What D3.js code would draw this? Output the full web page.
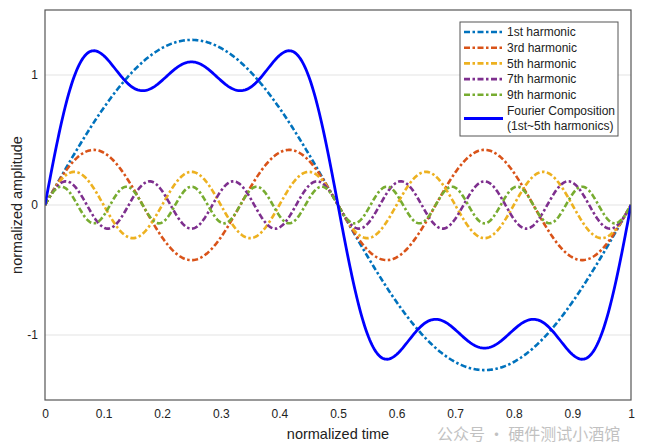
<!DOCTYPE html>
<meta charset="utf-8">
<script src="https://d3js.org/d3.v7.min.js"></script>
<html>
  <head>
    <style>
    body { margin: 0; background-color: white; }
    text { font-family: "Liberation Sans", Arial, sans-serif; }
    </style>
  </head>
  <body>
    <div id="my_dataviz"></div>
  </body>
</html>

<script>

// harmonic orders, names and amplitudes
var orders = [1, 3, 5, 7, 9];
var names = ["1st harmonic", "3rd harmonic", "5th harmonic", "7th harmonic", "9th harmonic"];
var amplitudes = [1.27, 0.424, 0.255, 0.182, 0.141];
var colors = ["#0072BD", "#D95319", "#EDB120", "#7E2F8E", "#77AC30"];
// the composition sums the 1st, 3rd and 5th harmonics
var compositionOrders = [1, 3, 5];
var compositionLabel = ["Fourier Composition", "(1st~5th harmonics)"];

var xTicks = [0, 0.1, 0.2, 0.3, 0.4, 0.5, 0.6, 0.7, 0.8, 0.9, 1];
var yTicks = [-1, 0, 1];

// set the dimensions and margins of the graph
var margin = {top: 10, right: 15, bottom: 46, left: 45},
    width = 646 - margin.left - margin.right,
    height = 446 - margin.top - margin.bottom;

var svg = d3.select("#my_dataviz")
  .append("svg")
    .attr("width", width + margin.left + margin.right)
    .attr("height", height + margin.top + margin.bottom)
  .append("g")
    .attr("transform", "translate(" + margin.left + "," + margin.top + ")");

var x = d3.scaleLinear().domain([0, 1]).range([0, width]);
var y = d3.scaleLinear().domain([-1.5, 1.5]).range([height, 0]);

// grid lines
svg.append("g")
  .selectAll("line")
  .data(yTicks)
  .enter()
  .append("line")
    .attr("x1", 0)
    .attr("x2", width)
    .attr("y1", function(d) { return y(d); })
    .attr("y2", function(d) { return y(d); })
    .style("stroke", "#e3e3e3")
    .style("stroke-width", 1);

// X axis labels
var xAxis = svg.append("g")
  .attr("transform", "translate(0," + height + ")")
  .call(d3.axisBottom(x).tickValues(xTicks).tickSize(0).tickPadding(9).tickFormat(function(d) { return String(d); }));
xAxis.select(".domain").remove();
xAxis.selectAll("text").style("font-size", "12px").style("fill", "#222");

// Y axis labels
var yAxis = svg.append("g")
  .call(d3.axisLeft(y).tickValues(yTicks).tickSize(0).tickPadding(7).tickFormat(function(d) { return String(d); }));
yAxis.select(".domain").remove();
yAxis.selectAll("text").style("font-size", "12px").style("fill", "#222");

// axis titles
svg.append("text")
  .attr("text-anchor", "middle")
  .attr("x", width / 2)
  .attr("y", height + 39)
  .style("font-size", "14.5px")
  .style("fill", "#222")
  .text("normalized time");

svg.append("text")
  .attr("text-anchor", "middle")
  .attr("transform", "translate(" + (-23) + "," + (height / 2) + ") rotate(-90)")
  .style("font-size", "14.5px")
  .style("fill", "#222")
  .text("normalized amplitude");

// sample the curves
var ts = d3.range(0, 1.0001, 0.002);
var line = d3.line()
  .x(function(d) { return x(d[0]); })
  .y(function(d) { return y(d[1]); });

svg.append("clipPath").attr("id", "clip")
  .append("rect").attr("width", width).attr("height", height);

var plot = svg.append("g").attr("clip-path", "url(#clip)");

orders.forEach(function(n, i) {
  var pts = ts.map(function(t) { return [t, amplitudes[i] * Math.sin(2 * Math.PI * n * t)]; });
  plot.append("path")
    .datum(pts)
    .attr("d", line)
    .style("fill", "none")
    .style("stroke", colors[i])
    .style("stroke-width", 2.6)
    .style("stroke-dasharray", "6,2.5,2.5,2.5");
});

var compPts = ts.map(function(t) {
  var s = 0;
  compositionOrders.forEach(function(n) {
    s += amplitudes[orders.indexOf(n)] * Math.sin(2 * Math.PI * n * t);
  });
  return [t, s];
});
plot.append("path")
  .datum(compPts)
  .attr("d", line)
  .style("fill", "none")
  .style("stroke", "#0000FF")
  .style("stroke-width", 2.8);

// plot frame
svg.append("rect")
  .attr("width", width)
  .attr("height", height)
  .style("fill", "none")
  .style("stroke", "#555")
  .style("stroke-width", 1.2);

// ---------------------------//
//       LEGEND               //
// ---------------------------//
var lx = 415, ly = 12, lw = 158, lh = 114, step = 15.7;
var legend = svg.append("g").attr("transform", "translate(" + lx + "," + ly + ")");
legend.append("rect")
  .attr("width", lw)
  .attr("height", lh)
  .style("fill", "white")
  .style("stroke", "#555")
  .style("stroke-width", 1);

names.forEach(function(name, i) {
  var yy = 10 + i * step;
  legend.append("line")
    .attr("x1", 4).attr("x2", 43)
    .attr("y1", yy).attr("y2", yy)
    .style("stroke", colors[i])
    .style("stroke-width", 2.6)
    .style("stroke-dasharray", "6,2.5,2.5,2.5");
  legend.append("text")
    .attr("x", 47)
    .attr("y", yy)
    .attr("dy", "0.35em")
    .style("font-size", "12px")
    .style("fill", "#222")
    .text(name);
});

var cy = 10 + 5 * step;
legend.append("line")
  .attr("x1", 4).attr("x2", 43)
  .attr("y1", cy + 8).attr("y2", cy + 8)
  .style("stroke", "#0000FF")
  .style("stroke-width", 2.8);
compositionLabel.forEach(function(s, i) {
  legend.append("text")
    .attr("x", 47)
    .attr("y", cy + i * step)
    .attr("dy", "0.35em")
    .style("font-size", "12px")
    .style("fill", "#222")
    .text(s);
});

// watermark, moved below the tick labels
svg.append("text")
  .attr("x", 392)
  .attr("y", height + 40)
  .style("font-family", "'Noto Sans CJK SC', sans-serif")
  .style("font-size", "16px")
  .style("fill", "#999")
  .style("opacity", 0.6)
  .text("公众号 · 硬件测试小酒馆");

</script>
